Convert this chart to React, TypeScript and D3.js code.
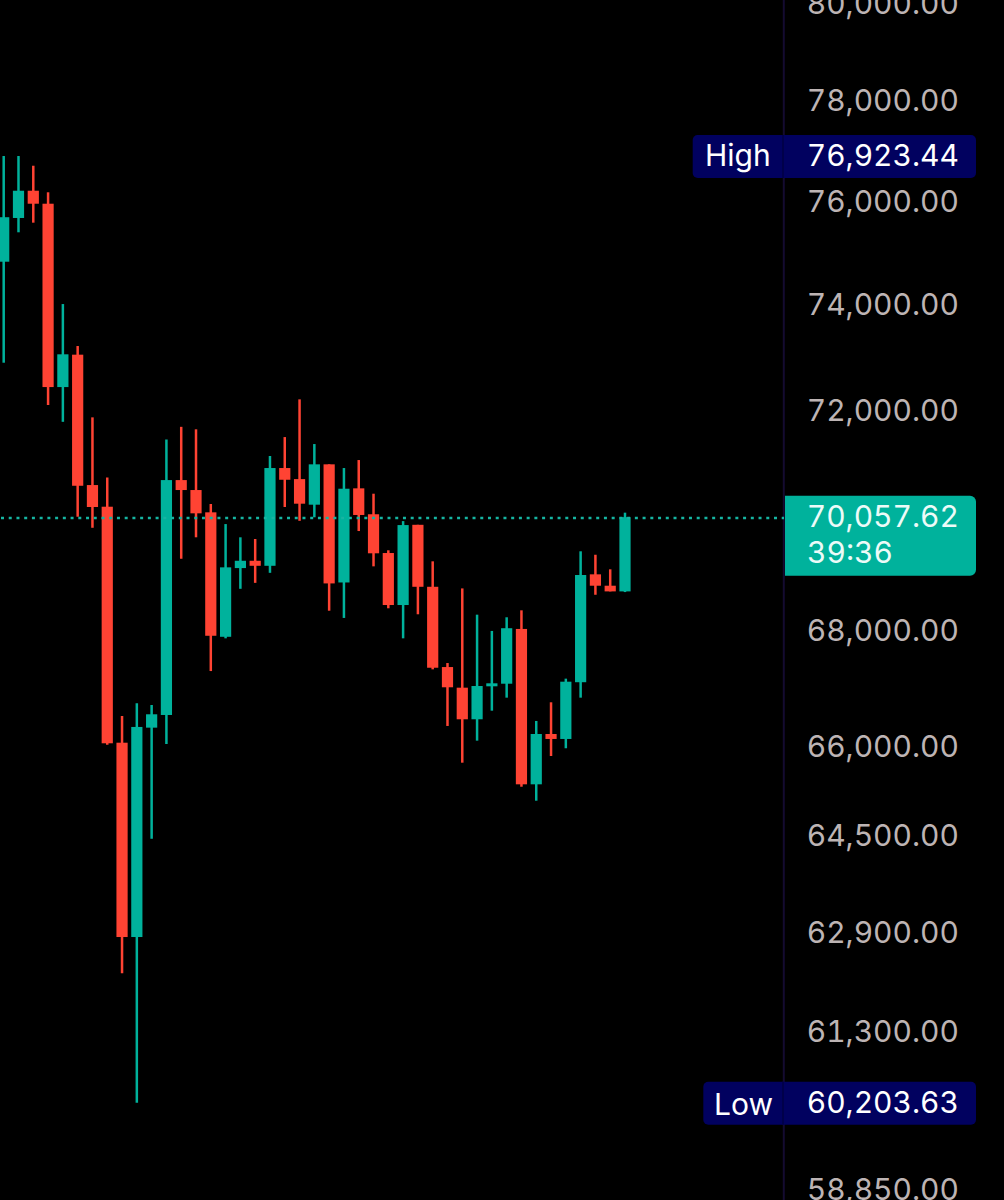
import React from "react";
import * as d3 from "d3";

const W = 1004;
const H = 1200;

const opens = [74847,75699,76235,75979,72457,73067,70642,70247,66084,62842,66342,66560,70733,70551,70145,67921,69140,69271,69181,70954,70751,70284,71022,68883,70582,70110,69410,68482,69919,68806,67391,67032,66486,67056,67101,68059,65376,66233,66148,67127,69028,68825,68724];
const highs = [76923,76923,76730,76204,74031,73231,71891,70782,66543,66762,66732,71482,71715,71669,70296,69932,69693,69662,71175,71525,72227,71396,71022,70954,71101,70484,69459,69986,69919,69261,67461,68777,68311,68024,68265,68388,66457,66779,67189,69441,69379,69118,70139];
const lows = [72915,75419,75607,72121,71808,70065,69865,66050,62254,60203.63,64461,66062,69307,69693,67321,67894,68770,68876,69055,70242,69991,70055,68381,68253,69806,69171,68424,67894,68318,67351,66371,65743,66119,66634,66859,65335,65099,65857,65989,66859,68664,68724,68712];
const closes = [75714,76235,75979,72457,73074,70629,70242,66074,62842,66354,66572,70733,70551,70127,67939,69153,69271,69181,70954,70739,70302,71022,68866,70575,70097,69405,68482,69914,68806,67379,67039,66486,67061,67108,68072,65376,66233,66148,67136,69016,68825,68724,70057.62];

const tickValues = [80000,78000,76000,74000,72000,68000,66000,64500,62900,61300,58850];
const HIGH = 76923.44;
const LOW = 60203.63;
const LAST = 70057.62;
const COUNTDOWN = "39:36";

const RED = "#FF4333";
const GREEN = "#00B29C";
const FONT = "Inter, 'Noto Sans', sans-serif";
const FS = 30;

const x = d3.scaleLinear().domain([0, closes.length - 1]).range([3.7, 625]);
const y = d3.scaleLog().domain([HIGH, LOW]).range([156, 1102.7]);
const fmt = d3.format(",.2f");
const BASE = FS * 0.364;

export default function App() {
  const hy = y(HIGH);
  const ly = y(LOW);
  const cy = y(LAST);
  const dotY = Math.round(cy) + 1;
  return (
    <svg width={W} height={H} viewBox={`0 0 ${W} ${H}`} style={{ position: "absolute", left: 0, top: 0, background: "#000", display: "block", fontVariantNumeric: "tabular-nums" }} fontFamily={FONT}>
      <rect x={0} y={0} width={W} height={H} fill="#000" />
      <line x1={783.8} x2={783.8} y1={0} y2={H} stroke="#140B30" strokeWidth={2} />
      {closes.map((c, i) => {
        const o = opens[i];
        const col = c >= o ? GREEN : RED;
        const top = y(Math.max(o, c));
        const bot = y(Math.min(o, c));
        return (
          <g key={i}>
            <line x1={x(i)} x2={x(i)} y1={y(highs[i])} y2={y(lows[i])} stroke={col} strokeWidth={2.5} />
            <rect x={x(i) - 5.6} width={11.2} y={top} height={Math.max(bot - top, 1)} fill={col} />
          </g>
        );
      })}
      <line x1={1} x2={784} y1={dotY} y2={dotY} stroke="#16B5A2" strokeWidth={2.6} strokeDasharray="3 4.73" />
      {tickValues.map((t) => (
        <text key={t} x={959} y={y(t) - 1.8 + BASE} textAnchor="end" fontSize={FS} fill="#BDB4B4">{fmt(t)}</text>
      ))}
      <path d={`M785 ${cy - 21.5} H970 a6 6 0 0 1 6 6 V${cy + 52.5} a6 6 0 0 1 -6 6 H785 Z`} fill="#00B29C" />
      <text x={959} y={516 + BASE} textAnchor="end" fontSize={FS} fill="#ECFBF8">{fmt(LAST)}</text>
      <text x={807} y={552.5 + BASE} fontSize={FS} fill="#ECFBF8">{COUNTDOWN}</text>

      <rect x={692.7} y={hy - 21} width={283.3} height={43} rx={5} fill="#01015F" />
      <rect x={782} y={hy - 21} width={2} height={43} fill="#00004A" />
      <text x={705} y={hy - 1 + BASE} fontSize={FS} fill="#FFFFFF">High</text>
      <text x={959} y={hy - 1 + BASE} textAnchor="end" fontSize={FS} fill="#FFFFFF">{fmt(HIGH)}</text>

      <rect x={703.3} y={ly - 21} width={272.7} height={43} rx={5} fill="#01015F" />
      <rect x={782} y={ly - 21} width={2} height={43} fill="#00004A" />
      <text x={714} y={ly + 1.3 + BASE} fontSize={FS} fill="#FFFFFF">Low</text>
      <text x={959} y={ly - 0.7 + BASE} textAnchor="end" fontSize={FS} fill="#FFFFFF">{fmt(LOW)}</text>
    </svg>
  );
}
